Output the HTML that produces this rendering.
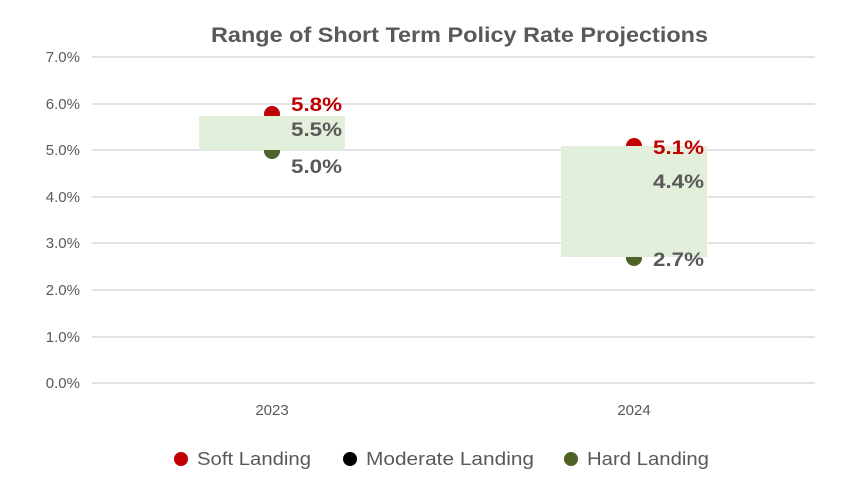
<!DOCTYPE html>
<html><head><style>
body{margin:0;background:#fff;}
svg text{font-family:"Liberation Sans",sans-serif;}
</style></head><body>
<svg width="843" height="493" xmlns="http://www.w3.org/2000/svg">
<rect width="843" height="493" fill="#fff"/>
<text x="211" y="42" textLength="497" lengthAdjust="spacingAndGlyphs" font-size="21" font-weight="bold" fill="#595959">Range of Short Term Policy Rate Projections</text>
<g stroke="#d9d9d9" stroke-width="1.5">
<line x1="92" x2="815" y1="57" y2="57"/><line x1="92" x2="815" y1="104" y2="104"/>
<line x1="92" x2="815" y1="150" y2="150"/><line x1="92" x2="815" y1="197" y2="197"/>
<line x1="92" x2="815" y1="243" y2="243"/><line x1="92" x2="815" y1="290" y2="290"/>
<line x1="92" x2="815" y1="337" y2="337"/><line x1="92" x2="815" y1="383" y2="383"/>
</g>
<g font-size="15" fill="#595959" text-anchor="end">
<text x="80" y="62">7.0%</text><text x="80" y="109">6.0%</text><text x="80" y="155">5.0%</text>
<text x="80" y="202">4.0%</text><text x="80" y="248">3.0%</text><text x="80" y="295">2.0%</text>
<text x="80" y="342">1.0%</text><text x="80" y="388">0.0%</text>
</g>
<g font-size="15" fill="#595959" text-anchor="middle">
<text x="272" y="415">2023</text><text x="634" y="415">2024</text>
</g>
<circle cx="272" cy="114" r="8" fill="#c00000"/>
<circle cx="272" cy="151" r="8" fill="#4f6228"/>
<circle cx="634" cy="146" r="8" fill="#c00000"/>
<circle cx="634" cy="258" r="8" fill="#4f6228"/>
<rect x="199" y="116" width="146" height="34" fill="#e2efda"/>
<rect x="561" y="146" width="146" height="111" fill="#e2efda"/>
<g font-size="19" font-weight="bold">
<text x="291" y="111" fill="#c00000" textLength="51" lengthAdjust="spacingAndGlyphs">5.8%</text>
<text x="291" y="136" fill="#595959" textLength="51" lengthAdjust="spacingAndGlyphs">5.5%</text>
<text x="291" y="173" fill="#595959" textLength="51" lengthAdjust="spacingAndGlyphs">5.0%</text>
<text x="653" y="154" fill="#c00000" textLength="51" lengthAdjust="spacingAndGlyphs">5.1%</text>
<text x="653" y="188" fill="#595959" textLength="51" lengthAdjust="spacingAndGlyphs">4.4%</text>
<text x="653" y="266" fill="#595959" textLength="51" lengthAdjust="spacingAndGlyphs">2.7%</text>
</g>
<g font-size="18" fill="#595959">
<circle cx="181" cy="459" r="7" fill="#c00000"/><text x="197" y="465" textLength="114" lengthAdjust="spacingAndGlyphs">Soft Landing</text>
<circle cx="350" cy="459" r="7" fill="#000"/><text x="366" y="465" textLength="168" lengthAdjust="spacingAndGlyphs">Moderate Landing</text>
<circle cx="571" cy="459" r="7" fill="#4f6228"/><text x="587" y="465" textLength="122" lengthAdjust="spacingAndGlyphs">Hard Landing</text>
</g>
</svg>
</body></html>
